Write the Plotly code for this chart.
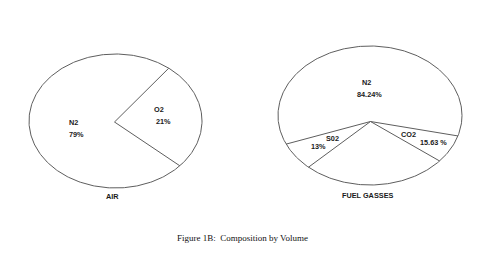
import numpy as np
import plotly.graph_objects as go

# ---- data ----
air_labels = ["N2", "O2"]
air_values = ["79%", "21%"]
air_drawn_share = [73.9, 26.1]          # share of the drawn outline per sector (%)
air_title = "AIR"

fuel_labels = ["N2", "S02", "", "CO2"]
fuel_values = ["84.24%", "13%", "", "15.63 %"]
fuel_drawn_share = [61.5, 6.6, 25.3, 6.6]  # share of the drawn outline per sector (%)
fuel_title = "FUEL GASSES"

caption = "Figure 1B:\u00a0\u00a0Composition by Volume"

# ---- layout / style (pixel space) ----
W, H = 490, 279
LINE = dict(color="#5e5e5e", width=1)
LBL_FONT = dict(family="Liberation Sans, Arial", size=7.3, color="#1a1a1a")
charts = [
    dict(labels=air_labels, values=air_values, share=air_drawn_share, title=air_title,
         cx=115.5, cy=121.0, a=86.5, b=67.0, vx=114.5, vy=122.0, start=52.0,
         lab_r=[0.46, 0.53], name_dx=[-2, -2], val_dx=[1, 2], lab_dy=[5, -1],
         name_dy=[6, 7], val_dy=[-6, -5], title_y=196),
    dict(labels=fuel_labels, values=fuel_values, share=fuel_drawn_share, title=fuel_title,
         cx=370.0, cy=115.5, a=92.0, b=69.5, vx=370.5, vy=121.5, start=-17.1,
         lab_r=[0.39, 0.63, 0.0, 0.64], name_dx=[-1, 9, 0, -13], val_dx=[2, -5, 0, 12],
         lab_dy=[0, 0, 0, 0], name_dy=[6, 3, 0, 3], val_dy=[-6, -5, 0, -5], title_y=195),
]

fig = go.Figure()
annotations = []

for c in charts:
    # outline ellipse
    t = np.linspace(0, 2 * np.pi, 361)
    fig.add_trace(go.Scatter(x=c["cx"] + c["a"] * np.cos(t), y=c["cy"] - c["b"] * np.sin(t),
                             mode="lines", line=LINE, hoverinfo="skip", showlegend=False))
    # sector boundaries
    shares = np.array(c["share"], dtype=float)
    bounds = c["start"] + np.concatenate([[0], np.cumsum(shares / shares.sum() * 360.0)])
    xs, ys = [], []
    for ang in bounds[:-1]:
        r = np.radians(ang)
        xs += [c["vx"], c["cx"] + c["a"] * np.cos(r), None]
        ys += [c["vy"], c["cy"] - c["b"] * np.sin(r), None]
    fig.add_trace(go.Scatter(x=xs, y=ys, mode="lines", line=LINE, hoverinfo="skip",
                             showlegend=False))
    # labels
    for i, (lab, val) in enumerate(zip(c["labels"], c["values"])):
        if not lab:
            continue
        mid = np.radians((bounds[i] + bounds[i + 1]) / 2)
        lx = c["cx"] + c["lab_r"][i] * c["a"] * np.cos(mid)
        ly = c["cy"] - c["lab_r"][i] * c["b"] * np.sin(mid) + c["lab_dy"][i]
        annotations.append(dict(x=lx, y=ly, text=f"<b>{lab}</b>", showarrow=False,
                                xshift=c["name_dx"][i], yshift=c["name_dy"][i], font=LBL_FONT))
        annotations.append(dict(x=lx, y=ly, text=f"<b>{val}</b>", showarrow=False,
                                xshift=c["val_dx"][i], yshift=c["val_dy"][i], font=LBL_FONT))
    annotations.append(dict(x=c["cx"] - 3, y=c["title_y"], text=f"<b>{c['title']}</b>",
                            showarrow=False, font=LBL_FONT))

annotations.append(dict(x=242, y=238, text=caption, showarrow=False,
                        font=dict(family="Liberation Serif, Times New Roman", size=9,
                                  color="#111")))

fig.update_layout(
    width=W, height=H, margin=dict(l=0, r=0, t=0, b=0),
    paper_bgcolor="white", plot_bgcolor="white",
    xaxis=dict(range=[0, W], visible=False, fixedrange=True),
    yaxis=dict(range=[H, 0], visible=False, fixedrange=True),
    annotations=annotations, showlegend=False,
)
fig.write_html("out.html")
